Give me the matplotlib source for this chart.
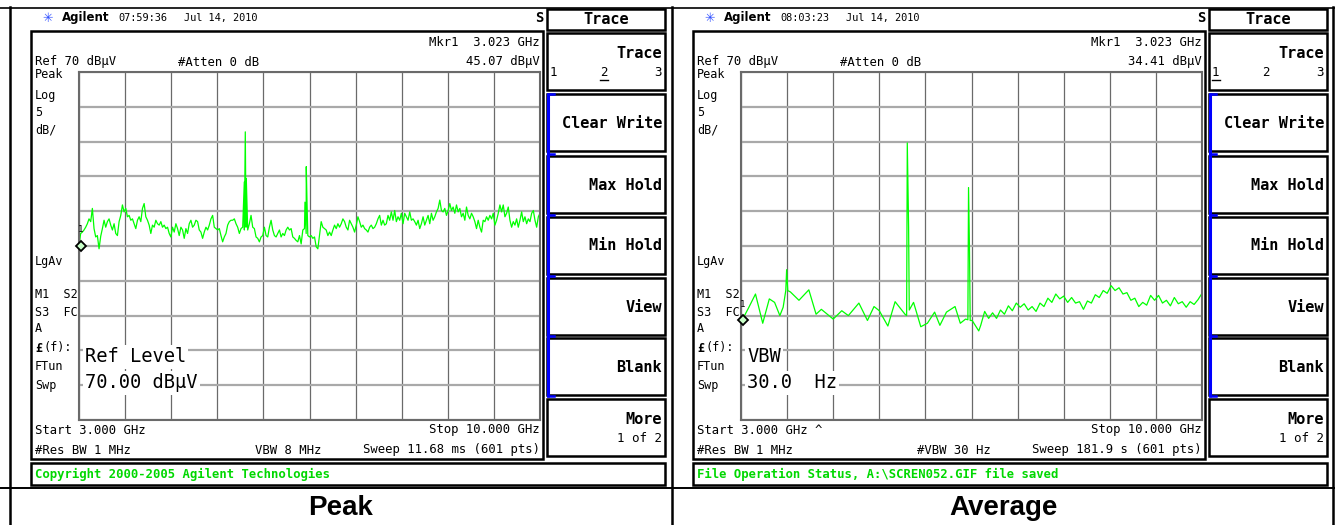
import numpy as np
import matplotlib.pyplot as plt
from matplotlib.patches import Rectangle

W, H = 1335, 525

# analyser settings shared by both screens
f_start, f_stop = 3.0, 10.0
ref_level, db_per_div = 70, 5

# Peak detector trace (dBuV), evenly spaced sweep points from 3 to 10 GHz
peak_dB = [
    45.1, 46.8, 47.0, 47.3, 47.7, 48.2, 48.9, 48.5, 50.4, 47.5,
    46.3, 46.5, 44.6, 46.4, 47.5, 48.7, 47.7, 48.5, 48.9, 48.0,
    47.3, 48.2, 46.8, 46.5, 48.5, 49.4, 50.9, 49.9, 50.4, 49.2,
    49.4, 48.7, 48.9, 48.2, 47.5, 48.7, 49.2, 48.5, 50.4, 51.1,
    49.2, 48.7, 48.0, 46.8, 48.0, 47.7, 48.7, 48.2, 48.0, 48.5,
    47.7, 48.0, 47.5, 47.7, 46.8, 46.3, 47.7, 47.0, 48.2, 47.5,
    46.5, 47.7, 47.3, 46.1, 47.5, 46.8, 48.2, 48.7, 47.7, 48.0,
    48.7, 48.5, 47.3, 47.0, 46.1, 47.0, 47.7, 47.3, 48.0, 48.9,
    49.4, 47.7, 47.5, 47.3, 47.5, 46.5, 45.6, 46.3, 46.8, 48.0,
    48.5, 48.7,
    48.7, 48.9, 48.2, 47.7, 46.8, 47.5, 47.7, 47.3, 47.7, 47.3,
    48.2, 49.4, 47.7, 47.5, 46.3, 46.1, 45.6, 46.3, 46.5, 47.7,
    46.5, 46.3, 47.7, 48.7, 47.3, 46.5, 46.3, 46.8, 47.3, 46.3,
    46.8, 46.5, 47.3, 47.7, 47.3, 47.5, 46.3, 46.1, 45.8, 45.6,
    46.5, 45.3, 47.3, 47.5, 46.8, 46.5, 46.3, 46.5, 46.1, 46.3,
    44.9, 44.6, 46.5, 48.5, 47.7, 47.5, 47.3, 46.5, 47.0, 46.5,
    47.3, 48.0, 47.5, 48.2, 47.7, 48.2, 48.9, 48.5, 47.7, 47.3,
    48.7, 48.2, 47.7, 47.0, 48.0, 49.2, 48.5, 47.7, 48.0, 47.5,
    47.3, 47.0, 47.7, 48.0, 47.5, 47.7, 48.2, 48.9, 49.4, 48.0,
    48.7, 48.0, 48.2, 49.4,
    48.7, 49.9, 48.7, 50.1, 48.5, 49.2, 48.7, 49.7, 48.2, 49.7,
    49.2, 48.7, 49.9, 48.7, 48.9, 48.5, 48.0, 48.7, 47.5, 48.2,
    49.2, 48.0, 48.7, 49.4, 48.2, 49.7, 48.7, 49.2, 49.9, 50.4,
    51.6, 50.1, 49.9, 50.4, 49.4, 50.1, 51.1, 50.1, 50.6, 49.7,
    50.9, 49.9, 50.4, 49.2, 49.7, 48.7, 50.6, 49.4, 48.9, 49.7,
    49.2, 48.5, 47.5, 48.7, 47.7, 47.0, 48.7, 48.5, 49.2, 48.7,
    49.4, 48.9, 49.7, 48.0, 48.7, 49.7, 50.9, 49.9, 50.9, 49.2,
    49.7, 50.6, 48.7, 47.7, 48.5, 48.0, 48.9, 47.7, 48.7, 49.9,
    48.5, 49.2, 48.2, 48.9, 48.5, 49.7, 50.1, 48.7, 47.7, 49.2,
    49.7,
]
peak_spike_f = [5.510, 5.525, 5.540, 6.431, 6.451, 6.461]
peak_spike_dB = [54.2, 61.4, 54.7, 51.3, 56.4, 51.8]

# Average detector trace (dBuV)
avg_f = [
    3.02, 3.12, 3.22, 3.33, 3.43, 3.51, 3.59, 3.64, 3.68, 3.71,
    3.75, 3.88, 4.03, 4.14, 4.22, 4.40, 4.53, 4.63, 4.79, 4.92,
    5.02, 5.10, 5.23, 5.34, 5.49, 5.515, 5.555, 5.62, 5.73, 5.83,
    5.94, 6.02, 6.12, 6.25, 6.33, 6.41, 6.445, 6.48, 6.51, 6.61,
    6.64, 6.70, 6.76, 6.82, 6.88, 6.94, 7.00, 7.06, 7.12, 7.18,
    7.24, 7.30, 7.36, 7.42, 7.48, 7.54, 7.60, 7.66, 7.72, 7.78,
    7.84, 7.90, 7.96, 8.02, 8.08, 8.14, 8.20, 8.26, 8.32, 8.38,
    8.44, 8.50, 8.56, 8.62, 8.68, 8.74, 8.80, 8.86, 8.92, 8.98,
    9.04, 9.10, 9.16, 9.22, 9.28, 9.34, 9.40, 9.46, 9.52, 9.58,
    9.64, 9.70, 9.76, 9.82, 9.88, 9.94, 10.00,
]
avg_dB = [
    34.4, 36.2, 38.1, 33.9, 37.4, 36.9, 35.0, 36.2, 38.6, 38.6,
    38.4, 37.2, 38.7, 35.2, 35.9, 34.5, 35.7, 35.0, 36.8, 34.3,
    36.3, 35.7, 33.5, 37.0, 35.2, 35.0, 35.8, 36.9, 33.4, 33.9,
    35.5, 33.6, 35.5, 36.3, 33.9, 34.5, 34.4, 34.3, 34.3, 32.8,
    33.6, 35.6, 34.6, 35.4, 34.6, 35.8, 35.2, 36.4, 35.7, 36.8,
    36.2, 36.7, 35.8, 36.3, 35.6, 36.8, 36.3, 37.5, 36.9, 38.1,
    37.4, 37.8, 36.9, 37.6, 36.8, 37.0, 35.9, 37.1, 36.8, 38.0,
    37.6, 38.6, 38.2, 39.3, 38.6, 39.0, 38.1, 38.3, 37.2, 37.5,
    36.3, 36.9, 36.5, 37.9, 37.2, 37.9, 36.8, 37.2, 36.4, 37.6,
    36.7, 37.0, 36.2, 37.0, 36.6, 37.3, 38.2,
]
avg_spike_f = [3.693, 5.525, 5.545, 6.455, 6.470]
avg_spike_dB = [41.6, 59.8, 47.7, 53.4, 44.1]

captions = ["Peak", "Average"]
clock = ["07:59:36", "08:03:23"]
mkr_freq = [3.023, 3.023]
mkr_level = [45.07, 34.41]
active_trace = [2, 1]
big_text = [("Ref Level", "70.00 dBµV"), ("VBW", "30.0  Hz")]
start_text = ["Start 3.000 GHz", "Start 3.000 GHz ^"]
vbw_text = ["VBW 8 MHz", "#VBW 30 Hz"]
sweep_text = ["Sweep 11.68 ms (601 pts)", "Sweep 181.9 s (601 pts)"]
status_text = ["Copyright 2000-2005 Agilent Technologies",
               "File Operation Status, A:\\SCREN052.GIF file saved"]
softkeys = ["Clear Write", "Max Hold", "Min Hold", "View", "Blank"]
side_labels = ["Peak", "Log", "5", "dB/", "LgAv", "M1  S2", "S3  FC", "A", "", "FTun", "Swp"]
side_y = [75, 96, 113, 130, 262, 294, 312, 329, 348, 367, 385]


def merge(f, db, sf, sdb):
    f = np.concatenate([f, sf])
    db = np.concatenate([db, sdb])
    o = np.argsort(f, kind='stable')
    return f[o], db[o]


traces = [
    merge(np.linspace(f_start, f_stop, len(peak_dB)), peak_dB, peak_spike_f, peak_spike_dB),
    merge(np.array(avg_f), avg_dB, avg_spike_f, avg_spike_dB),
]

MONO = ['DejaVu Sans Mono']
NARROW = ['Liberation Sans Narrow', 'DejaVu Sans Mono']
GREEN = '#00ff00'

fig = plt.figure(figsize=(W / 100, H / 100), dpi=100)
fig.patch.set_facecolor('white')

offsets = [0, 662]
for i, ox in enumerate(offsets):
    ax = fig.add_axes([(79 + ox) / W, 1 - 420 / H, 461 / W, 348 / H])
    ax.set_xlim(f_start, f_stop)
    ax.set_ylim(ref_level - 10 * db_per_div, ref_level)
    ax.set_xticks(np.linspace(f_start, f_stop, 11))
    ax.set_yticks(np.arange(ref_level - 10 * db_per_div, ref_level + 1, db_per_div))
    ax.tick_params(length=0, labelbottom=False, labelleft=False)
    ax.xaxis.grid(True, color='#6a6a6a', lw=0.9)
    ax.yaxis.grid(True, color='#a9a9a9', lw=1.6)
    for s in ax.spines.values():
        s.set_color('#6a6a6a')
        s.set_linewidth(1.5)
    f, db = traces[i]
    ax.plot(f, db, color=GREEN, lw=0.9)
    ax.plot([mkr_freq[i]], [mkr_level[i]], 'D', ms=5, mfc='#c8ffc8', mec='black',
            mew=1.3, clip_on=False, zorder=5)
    ax.annotate('1', (mkr_freq[i], mkr_level[i]), xytext=(0, 8), textcoords='offset points',
                ha='center', va='bottom', fontsize=6.5, family=MONO)

# overlay in pixel coordinates for the instrument screen furniture
ov = fig.add_axes([0, 0, 1, 1])
ov.set_xlim(0, W)
ov.set_ylim(H, 0)
ov.axis('off')


def txt(x, y, s, size=8.8, ha='left', weight='normal', color='black', family=MONO, **kw):
    ov.text(x, y, s, fontsize=size, ha=ha, va='center', fontweight=weight,
            color=color, family=family, **kw)


def box(x, y, w, h, lw=1.8, ec='black'):
    ov.add_patch(Rectangle((x, y), w, h, fill=False, lw=lw, ec=ec))


# table borders
for xv in [10, 671.5, 1332.5]:
    ov.plot([xv, xv], [7, H], color='black', lw=1.8)
ov.plot([0, W], [7.5, 7.5], color='black', lw=1.2)
ov.plot([0, W], [488, 488], color='black', lw=1.4)

for i, ox in enumerate(offsets):
    # header
    txt(42 + ox, 18, '✳', size=9, color='#3050ff', family=['DejaVu Sans'])
    txt(62 + ox, 18, 'Agilent', size=8.5, weight='bold', family=['DejaVu Sans'])
    txt(118 + ox, 18, clock[i], size=7.4)
    txt(184 + ox, 18, 'Jul 14, 2010', size=7.4)
    txt(543 + ox, 18, 'S', size=10, ha='right', weight='bold', family=NARROW)
    box(547 + ox, 9, 118, 21)
    txt(606 + ox, 19.5, 'Trace', size=11, ha='center', weight='bold', family=NARROW)

    # display area
    box(31 + ox, 31, 512, 428)
    txt(540 + ox, 43, 'Mkr1  %.3f GHz' % mkr_freq[i], ha='right')
    txt(35 + ox, 62, 'Ref %d dBµV' % ref_level)
    txt(178 + ox, 62, '#Atten 0 dB')
    txt(540 + ox, 62, '%.2f dBµV' % mkr_level[i], ha='right')
    for lab, yy in zip(side_labels, side_y):
        txt(35 + ox, yy, lab, size=8.5)
    txt(35 + ox, 348, '£', size=8.5, weight='bold')
    txt(43 + ox, 348, '(f):', size=8.5)
    bb = dict(facecolor='white', edgecolor='none', pad=1.5)
    txt(85 + ox, 357, big_text[i][0], size=13.5, bbox=bb)
    txt(85 + ox, 383, big_text[i][1], size=13.5, bbox=bb)
    txt(35 + ox, 430, start_text[i])
    txt(540 + ox, 430, 'Stop 10.000 GHz', ha='right')
    txt(35 + ox, 450, '#Res BW 1 MHz')
    txt(255 + ox, 450, vbw_text[i])
    txt(540 + ox, 450, sweep_text[i], ha='right')

    # status line
    box(31 + ox, 463, 634, 22)
    txt(35 + ox, 474, status_text[i], size=8.8, weight='bold', color='#00d800')

    # softkeys
    tops = [33, 94, 156, 217, 278, 338, 399]
    for tp in tops:
        box(547 + ox, tp, 118, 57)
    txt(662 + ox, 54, 'Trace', size=11, ha='right', weight='bold', family=NARROW)
    for n, (xx, ha) in enumerate([(550, 'left'), (604, 'center'), (662, 'right')], start=1):
        txt(xx + ox, 72, str(n), size=9, ha=ha)
        if n == active_trace[i]:
            ux = {'left': xx + 3.5, 'center': xx, 'right': xx - 3.5}[ha] + ox
            ov.plot([ux - 4, ux + 4], [80, 80], color='black', lw=1)
    for lab, tp in zip(softkeys, tops[1:6]):
        txt(662 + ox, tp + 29, lab, size=11, ha='right', weight='bold', family=NARROW)
    txt(662 + ox, 420, 'More', size=11, ha='right', weight='bold', family=NARROW)
    txt(662 + ox, 438, '1 of 2', size=9, ha='right')

    # blue bracket
    bx = 547.5 + ox
    ov.plot([bx, bx], [93, 397], color='#0000ff', lw=2.2, solid_capstyle='butt')
    for yb in [94, 154, 215, 276, 336, 396]:
        ov.plot([bx, bx + 6], [yb, yb], color='#0000ff', lw=1.8)

    # caption row
    ov.text(341 + ox, 508, captions[i], fontsize=20, fontweight='bold', ha='center',
            va='center', family=['Liberation Sans', 'DejaVu Sans'])

fig.savefig('out.png', dpi=100, facecolor='white')
